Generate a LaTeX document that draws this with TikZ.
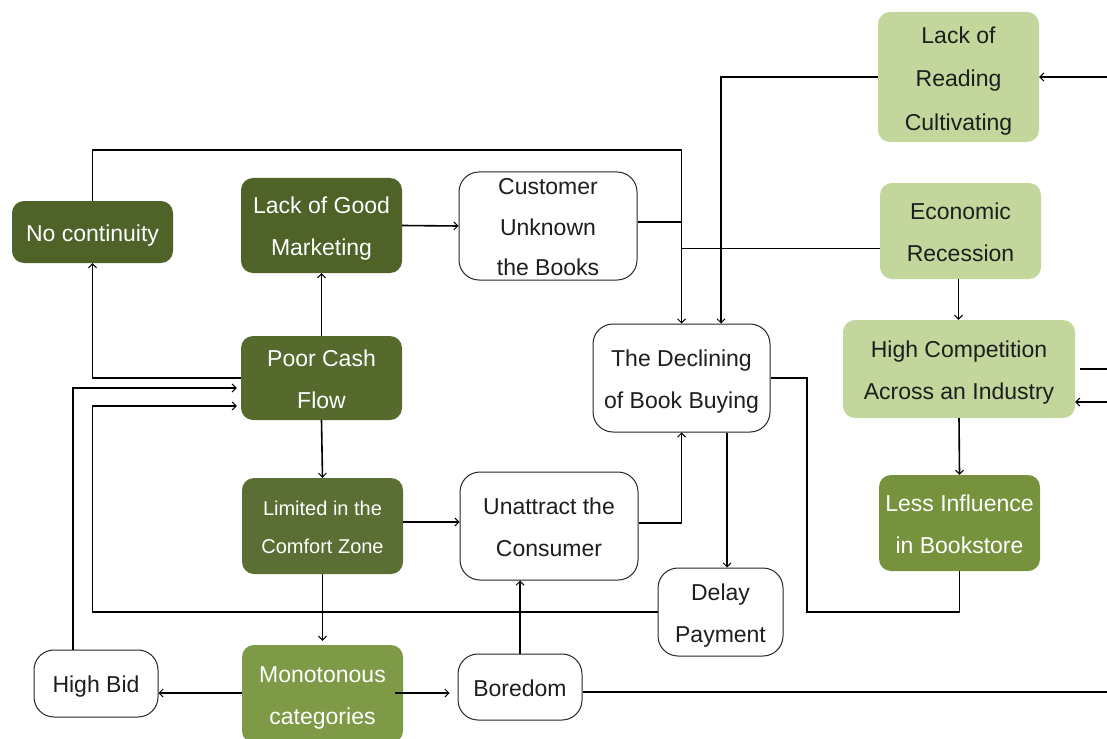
\documentclass[tikz,border=0pt]{standalone}
\usepackage{fontspec}
\setmainfont{Liberation Sans}
\usetikzlibrary{arrows.meta}
\definecolor{dkgreen}{HTML}{4F6228}
\definecolor{dkgreenb}{HTML}{566A2E}
\definecolor{dkgreenc}{HTML}{5B6E33}
\definecolor{mdgreen}{HTML}{76923C}
\definecolor{mdgreenb}{HTML}{7E9A47}
\definecolor{ltgreen}{HTML}{C3D69B}
\definecolor{txtdark}{HTML}{1E1E1E}
\newcommand{\mlines}[1]{\raisebox{\dimexpr-0.25em-1.5pt\relax}[0pt][0pt]{\begin{tabular}{@{}c@{}}#1\end{tabular}}}
\tikzset{
  box/.style={rounded corners=12pt, align=center, inner sep=0pt,
    font=\fontsize{23}{42}\selectfont},
  darkbox/.style={box, fill=dkgreen, text=white},
  ltbox/.style={box, fill=ltgreen, text=txtdark},
  whitebox/.style={box, draw=black!85, line width=1pt, rounded corners=20pt, fill=white, text=txtdark},
  ln/.style={draw=black, line width=1.6pt},
  thinln/.style={draw=black, line width=1pt},
  arr/.style={ln, -{Straight Barb[length=4pt,width=8pt,line width=1pt]}},
  thinarr/.style={thinln, -{Straight Barb[length=4pt,width=8pt,line width=1pt]}}
}
\begin{document}
\begin{tikzpicture}[x=1pt,y=-1pt]
\useasboundingbox (0,0) rectangle (1107,738);
\clip (0,0) rectangle (1107,738);
\fill[white] (0,0) rectangle (1107,738);

% nodes
\node[darkbox, minimum width=161pt, minimum height=62pt] (nc) at (92.5,232) {\mlines{No continuity}};
\node[darkbox, minimum width=161pt, minimum height=95pt] (lgm) at (321.5,225.5) {\mlines{Lack of Good\\Marketing}};
\node[whitebox, minimum width=178pt, minimum height=108pt, font=\fontsize{23}{40.5}\selectfont] (cub) at (548,226) {\mlines{Customer\\Unknown\\the Books}};
\node[darkbox, fill=dkgreenb, minimum width=161pt, minimum height=84pt] (pcf) at (321.5,378) {\mlines{Poor Cash\\Flow}};
\node[whitebox, minimum width=177pt, minimum height=108pt] (dec) at (681.5,378) {\mlines{The Declining\\of Book Buying}};
\node[ltbox, minimum width=161pt, minimum height=130pt, font=\fontsize{23}{43.5}\selectfont] (lrc) at (958.5,77) {\mlines{Lack of\\Reading\\Cultivating}};
\node[ltbox, minimum width=161pt, minimum height=96pt] (er) at (960.5,231) {\mlines{Economic\\Recession}};
\node[ltbox, minimum width=232pt, minimum height=98pt] (hc) at (959,369) {\mlines{High Competition\\Across an Industry}};
\node[darkbox, fill=mdgreen, minimum width=161pt, minimum height=96pt] (li) at (959.5,523) {\mlines{Less Influence\\in Bookstore}};
\node[darkbox, fill=dkgreenc, minimum width=161pt, minimum height=96pt, font=\fontsize{20}{38}\selectfont] (lcz) at (322.5,526) {\mlines{Limited in the\\Comfort Zone}};
\node[whitebox, minimum width=178pt, minimum height=108pt] (uc) at (549,526) {\mlines{Unattract the\\Consumer}};
\node[whitebox, minimum width=125pt, minimum height=88pt] (dp) at (720.5,612) {\mlines{Delay\\Payment}};
\node[whitebox, minimum width=124pt, minimum height=67pt] (hb) at (96,683.5) {\mlines{High Bid}};
\node[darkbox, fill=mdgreenb, minimum width=161pt, minimum height=98pt] (mc) at (322.5,694) {\mlines{Monotonous\\categories}};
\node[whitebox, minimum width=124pt, minimum height=66pt] (bd) at (520,687) {\mlines{Boredom}};

% helper coordinates
\coordinate (ytop) at (0,150);
\coordinate (kink) at (807,612);
\coordinate (inA) at (1107,77);
\coordinate (outA0) at (1080,369);
\coordinate (outA) at (1107,369);
\coordinate (inB) at (1107,402);
\coordinate (outB) at (1107,692);

% connectors
\draw[arr] (nc.north) |- (dec.north |- ytop) -- (dec.north);
\draw[ln] ([yshift=4pt]cub.east) -- ([yshift=4pt]cub.east -| dec.north);
\draw[thinln] ([yshift=-17pt]er.west) -- ([yshift=-17pt]er.west -| dec.north);
\draw[arr] (lrc.west) -| ([xshift=39.5pt]dec.north);
\draw[arr] (inA) -- (lrc.east);
\draw[arr] (lgm.east) -- (cub.west);
\draw[arr] (pcf.north) -- (lgm.south);
\draw[arr] (pcf.west) -| (nc.south);
\draw[arr, shorten >=4pt] ([xshift=-23pt]hb.north) |- ([yshift=-10pt]pcf.west);
\draw[arr, shorten >=4pt] (dp.west) -- (dp.west -| nc.south) |- ([yshift=-28pt]pcf.west);
\draw[arr] (pcf.south) -- (lcz.north);
\draw[arr] ([yshift=4pt]lcz.east) -- ([yshift=4pt]uc.west);
\draw[arr, shorten >=4pt] (lcz.south) -- (mc.north);
\draw[arr] ([yshift=1pt]mc.west) -- ([yshift=1pt]mc.west -| hb.east);
\draw[arr] ([yshift=1pt,xshift=-8pt]mc.east) -- ([yshift=1pt,xshift=-8pt]mc.east -| bd.west);
\draw[arr] (bd.north) -- (bd.north |- uc.south);
\draw[arr] ([yshift=3pt]uc.east) -| (dec.south);
\draw[arr] ([xshift=45.5pt]dec.south) -- ([xshift=45.5pt]dec.south |- dp.north);
\draw[ln] (dec.east) -| (kink) -| (li.south);
\draw[arr] ([xshift=-2pt]er.south) -- ([xshift=-2pt]er.south |- hc.north);
\draw[arr] (hc.south) -- (li.north);
\draw[ln] (outA0) -- (outA);
\draw[arr] (inB) -- (inB -| hc.east);
\draw[ln] (bd.east |- outB) -- (outB);
\end{tikzpicture}
\end{document}
